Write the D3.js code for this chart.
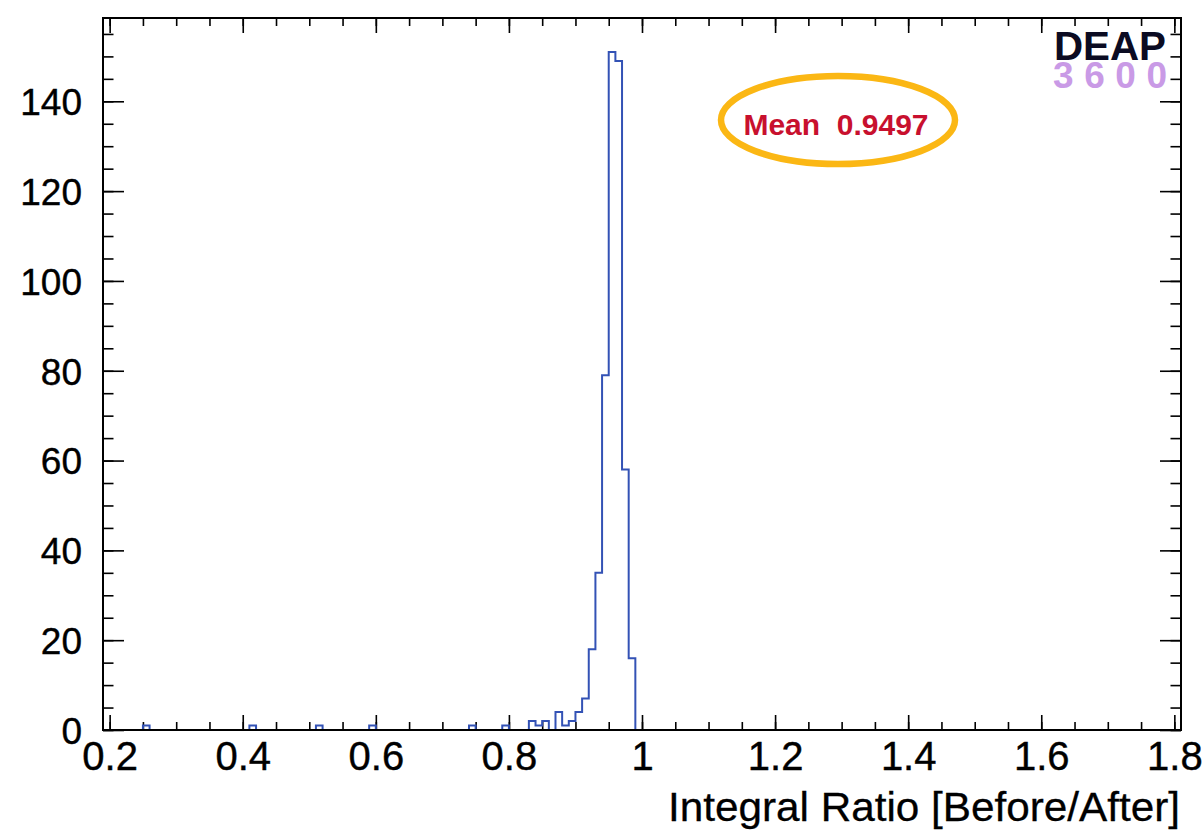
<!DOCTYPE html>
<html>
<head>
<meta charset="utf-8">
<script src="https://cdn.jsdelivr.net/npm/d3@7"></script>
<style>
  body { margin: 0; background: #fff; }
  text { font-family: "Liberation Sans", Arial, Helvetica, sans-serif; }
</style>
</head>
<body>
<svg width="1203" height="831"></svg>
<script>
// histogram binning: 162 bins of width 0.01 over 0.19 .. 1.81
const histMin = 0.19;
const histMax = 1.81;
const nBins = 162;
// non-empty bins (lower edge) and their counts
const binLowEdges = [0.25, 0.41, 0.51, 0.59, 0.74, 0.79, 0.83, 0.84, 0.85, 0.87, 0.88,
  0.89, 0.90, 0.91, 0.92, 0.93, 0.94, 0.95, 0.96, 0.97, 0.98];
const binCounts = [1, 1, 1, 1, 1, 1, 2, 1, 2, 4, 1, 2, 4, 7, 18, 35, 79, 151, 149, 58, 16];

const xMajorTicks = [0.2, 0.4, 0.6, 0.8, 1.0, 1.2, 1.4, 1.6, 1.8];
const yMajorTicks = [0, 20, 40, 60, 80, 100, 120, 140];
const yMax = 158.55;
const meanValue = "0.9497";

function main() {
  var svg = d3.select("svg");
  var left = 103, right = 1181, top = 18, bottom = 730;

  var x = d3.scaleLinear().domain([histMin, histMax]).range([left, right]);
  var y = d3.scaleLinear().domain([0, yMax]).range([bottom, top]);

  var binWidth = (histMax - histMin) / nBins;
  var counts = new Array(nBins).fill(0);
  binLowEdges.forEach((lo, i) => {
    counts[Math.round((lo - histMin) / binWidth)] = binCounts[i];
  });

  var xMinor = d3.range(0.2, 1.8001, 0.05);
  var yMinor = d3.range(0, yMax, 5);

  // axes, ROOT style: ticks pointing inwards on all four sides
  var gx = svg.append("g").attr("transform", "translate(0," + bottom + ")")
    .call(d3.axisBottom(x).tickValues(xMajorTicks).tickSize(-15).tickPadding(12)
      .tickFormat(d3.format("~g")));
  svg.append("g").attr("transform", "translate(0," + bottom + ")")
    .call(d3.axisBottom(x).tickValues(xMinor).tickSize(-8).tickFormat(""));
  svg.append("g").attr("transform", "translate(0," + top + ")")
    .call(d3.axisTop(x).tickValues(xMajorTicks).tickSize(-15).tickFormat(""));
  svg.append("g").attr("transform", "translate(0," + top + ")")
    .call(d3.axisTop(x).tickValues(xMinor).tickSize(-8).tickFormat(""));

  var gy = svg.append("g").attr("transform", "translate(" + left + ",0)")
    .call(d3.axisLeft(y).tickValues(yMajorTicks).tickSize(-21).tickPadding(21));
  svg.append("g").attr("transform", "translate(" + left + ",0)")
    .call(d3.axisLeft(y).tickValues(yMinor).tickSize(-10.5).tickFormat(""));
  svg.append("g").attr("transform", "translate(" + right + ",0)")
    .call(d3.axisRight(y).tickValues(yMajorTicks).tickSize(-21).tickFormat(""));
  svg.append("g").attr("transform", "translate(" + right + ",0)")
    .call(d3.axisRight(y).tickValues(yMinor).tickSize(-10.5).tickFormat(""));

  svg.selectAll(".domain").remove();
  svg.selectAll(".tick line").attr("stroke", "#000").attr("stroke-width", 1.6);
  gx.selectAll("text").attr("font-size", 40).attr("fill", "#000")
    .attr("stroke", "#000").attr("stroke-width", 0.4)
    .attr("font-family", "Liberation Sans, Arial, sans-serif");
  gy.selectAll("text").attr("font-size", 37).attr("fill", "#000")
    .attr("stroke", "#000").attr("stroke-width", 0.4)
    .attr("dy", "0.36em")
    .attr("font-family", "Liberation Sans, Arial, sans-serif");

  // histogram outline
  var pts = counts.map((c, i) => [histMin + i * binWidth, c]);
  pts.push([histMax, counts[nBins - 1]]);
  var line = d3.line().x((d) => x(d[0])).y((d) => y(d[1])).curve(d3.curveStepAfter);
  svg.append("path")
    .attr("d", line(pts))
    .attr("fill", "none")
    .attr("stroke", "#3352b5")
    .attr("stroke-width", 2);

  // frame
  svg.append("rect")
    .attr("x", left).attr("y", top)
    .attr("width", right - left).attr("height", bottom - top)
    .attr("fill", "none").attr("stroke", "#000").attr("stroke-width", 2);

  // x title
  svg.append("text")
    .attr("x", 668).attr("y", 821)
    .attr("font-size", 40)
    .attr("stroke", "#000").attr("stroke-width", 0.3)
    .attr("textLength", 512).attr("lengthAdjust", "spacingAndGlyphs")
    .text("Integral Ratio [Before/After]");

  // mean annotation
  svg.append("ellipse")
    .attr("cx", 838).attr("cy", 120).attr("rx", 117).attr("ry", 44)
    .attr("fill", "none").attr("stroke", "#fbb714").attr("stroke-width", 6.5);
  svg.append("text")
    .attr("x", 836).attr("y", 135)
    .attr("text-anchor", "middle")
    .attr("font-size", 30).attr("font-weight", "bold")
    .attr("fill", "#c8102e")
    .attr("xml:space", "preserve")
    .text("Mean  " + meanValue);

  // DEAP-3600 logo
  svg.append("text")
    .attr("x", 1054).attr("y", 60)
    .attr("font-size", 41).attr("font-weight", "bold")
    .attr("fill", "#0b0b22")
    .attr("textLength", 112).attr("lengthAdjust", "spacingAndGlyphs")
    .text("DEAP");
  svg.append("text")
    .attr("x", 1053).attr("y", 88)
    .attr("font-size", 37).attr("font-weight", "bold")
    .attr("fill", "#c99ae6")
    .attr("textLength", 114).attr("lengthAdjust", "spacing")
    .text("3600");
}

main();
</script>
</body>
</html>
